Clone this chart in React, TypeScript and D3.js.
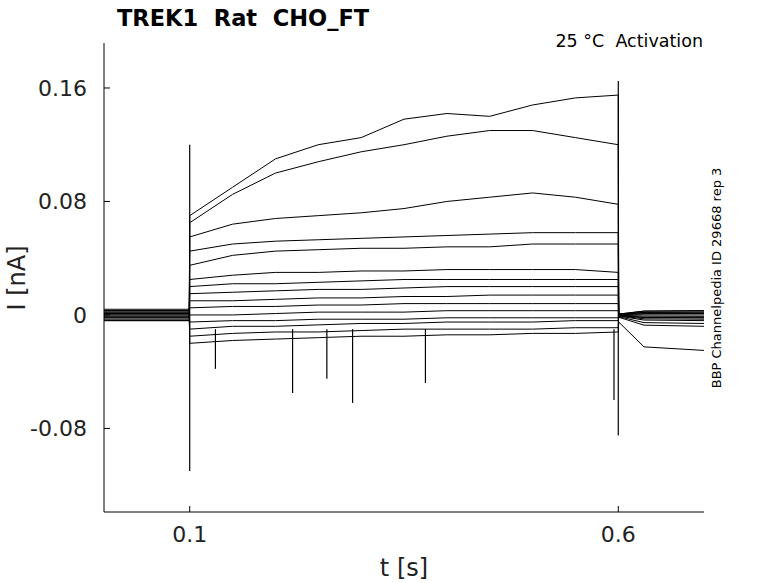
import * as d3 from "d3";

// time points (s) sampled during the step
const stepTimes = [0.1, 0.15, 0.2, 0.25, 0.3, 0.35, 0.4, 0.45, 0.5, 0.55, 0.6];

// current (nA) per trace at stepTimes
const traces: number[][] = [
  [0.07, 0.09, 0.11, 0.12, 0.125, 0.138, 0.142, 0.14, 0.148, 0.153, 0.155],
  [0.065, 0.085, 0.1, 0.108, 0.115, 0.12, 0.126, 0.13, 0.13, 0.125, 0.12],
  [0.055, 0.064, 0.068, 0.07, 0.072, 0.075, 0.08, 0.083, 0.086, 0.083, 0.078],
  [0.045, 0.05, 0.052, 0.053, 0.054, 0.055, 0.056, 0.057, 0.058, 0.058, 0.058],
  [0.035, 0.042, 0.045, 0.046, 0.047, 0.047, 0.048, 0.048, 0.05, 0.05, 0.05],
  [0.025, 0.028, 0.03, 0.03, 0.031, 0.031, 0.032, 0.032, 0.032, 0.032, 0.03],
  [0.02, 0.022, 0.022, 0.023, 0.024, 0.025, 0.025, 0.025, 0.025, 0.025, 0.025],
  [0.015, 0.016, 0.017, 0.018, 0.018, 0.019, 0.02, 0.02, 0.02, 0.02, 0.02],
  [0.01, 0.01, 0.011, 0.012, 0.012, 0.013, 0.013, 0.014, 0.014, 0.014, 0.014],
  [0.005, 0.006, 0.006, 0.007, 0.007, 0.008, 0.008, 0.008, 0.008, 0.008, 0.008],
  [0, 0, 0.001, 0.002, 0.002, 0.002, 0.003, 0.003, 0.003, 0.003, 0.003],
  [-0.005, -0.004, -0.004, -0.003, -0.003, -0.003, -0.002, -0.002, -0.002, -0.002, -0.002],
  [-0.01, -0.008, -0.008, -0.007, -0.006, -0.006, -0.005, -0.005, -0.005, -0.004, -0.004],
  [-0.015, -0.013, -0.012, -0.012, -0.011, -0.01, -0.01, -0.01, -0.01, -0.009, -0.009],
  [-0.02, -0.018, -0.017, -0.016, -0.015, -0.015, -0.014, -0.014, -0.013, -0.013, -0.012],
];

// holding level before / after step, and tail level at end
const preLevels = [0.003, -0.002, 0.001, -0.004, 0.002, 0, -0.003, 0.004, -0.001, 0.002, -0.002, 0.001, 0.003, -0.004, 0];
const tailLevels = [0.002, -0.001, 0.003, -0.003, 0.001, -0.002, 0, 0.002, -0.004, 0.001, -0.002, -0.008, 0.003, -0.006, -0.025];

// capacitive spikes and dips: [t, top, bottom]
const spikes: [number, number, number][] = [
  [0.1, 0.12, -0.11],
  [0.6, 0.165, -0.085],
  [0.13, -0.01, -0.038],
  [0.22, -0.01, -0.055],
  [0.26, -0.01, -0.045],
  [0.29, -0.01, -0.062],
  [0.375, -0.01, -0.048],
  [0.595, -0.01, -0.06],
];

const xTicks = [0.1, 0.6];
const yTicks = [-0.08, 0, 0.08, 0.16];

const W = 778, H = 583;
const m = { left: 104, right: 704, top: 43, bottom: 512 };

export default function App() {
  const x = d3.scaleLinear().domain([0, 0.7]).range([m.left, m.right]);
  const y = d3.scaleLinear().domain([-0.1389, 0.1917]).range([m.bottom, m.top]);
  const line = d3
    .line<[number, number]>()
    .x((d) => x(d[0]))
    .y((d) => y(d[1]));

  const paths = traces.map((vals, i) => {
    const pts: [number, number][] = [
      [0, preLevels[i]],
      [0.0995, preLevels[i]],
      ...stepTimes.map((t, j) => [t, vals[j]] as [number, number]),
      [0.6005, tailLevels[i] * 0.2],
      [0.63, tailLevels[i] * 0.9],
      [0.7, tailLevels[i]],
    ];
    return line(pts)!;
  });

  const fmt = (v: number) => (v === 0 ? "0" : d3.format(".2f")(v).replace("−", "-"));

  return (
    <svg width={W} height={H} style={{ position: "absolute", left: 0, top: 0, background: "#fff" }} fontFamily="DejaVu Sans">
      <g clipPath="url(#c)">
        <clipPath id="c">
          <rect x={m.left} y={m.top} width={m.right - m.left} height={m.bottom - m.top} />
        </clipPath>
        {paths.map((d, i) => (
          <path key={i} d={d} fill="none" stroke="#000" strokeWidth={1} />
        ))}
        {spikes.map(([t, a, b], i) => (
          <line key={i} x1={x(t)} x2={x(t)} y1={y(a)} y2={y(b)} stroke="#000" strokeWidth={1.2} />
        ))}
      </g>
      <line x1={m.left} x2={m.left} y1={m.top} y2={m.bottom} stroke="#000" />
      <line x1={m.left} x2={m.right} y1={m.bottom} y2={m.bottom} stroke="#000" />
      {xTicks.map((t) => (
        <g key={t}>
          <line x1={x(t)} x2={x(t)} y1={m.bottom} y2={m.bottom - 6} stroke="#000" />
          <text x={x(t)} y={m.bottom + 30} textAnchor="middle" fontSize={22} fill="#222">
            {t}
          </text>
        </g>
      ))}
      {yTicks.map((t) => (
        <g key={t}>
          <line x1={m.left} x2={m.left + 6} y1={y(t)} y2={y(t)} stroke="#000" />
          <text x={m.left - 17} y={y(t) + 8} textAnchor="end" fontSize={22} fill="#222">
            {fmt(t)}
          </text>
        </g>
      ))}
      <text x={404} y={576} textAnchor="middle" fontSize={24} fill="#222">t [s]</text>
      <text transform={`translate(25,${y(0) - 37}) rotate(-90)`} textAnchor="middle" fontSize={24} fill="#222">I [nA]</text>
      <text x={117} y={26} fontSize={22.5} fontWeight="bold" xmlSpace="preserve">TREK1  Rat  CHO_FT</text>
      <text x={703} y={47} textAnchor="end" fontSize={17.5} xmlSpace="preserve">25 °C  Activation</text>
      <text transform={`translate(721,278) rotate(-90)`} textAnchor="middle" fontSize={13}>BBP Channelpedia ID 29668 rep 3</text>
    </svg>
  );
}
